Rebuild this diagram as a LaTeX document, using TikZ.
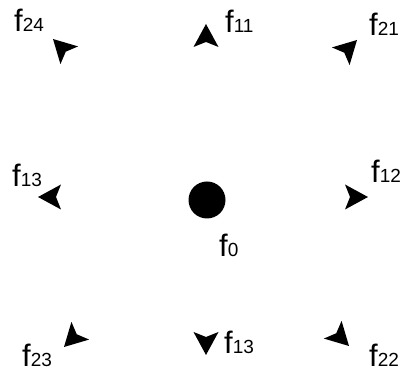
\documentclass[tikz,border=0pt]{standalone}
\usepackage{fontspec}
\setmainfont{Liberation Sans}
\usetikzlibrary{positioning}

% kleiner Index hinter dem f
\newcommand{\fidx}[1]{{\fontsize{19pt}{22pt}\selectfont #1}}

\begin{document}
\begin{tikzpicture}[x=1pt, y=1pt]

	% Stil für alle Knoten
	\tikzset{
		every node/.style={font=\fontsize{31pt}{37pt}\selectfont, inner sep=0pt},
		flabel/.style={anchor=base west},
		pics/farrow/.style={code={
			\fill (0,0) -- (-23,12.5) -- (-18,0) -- (-23,-12.5) -- cycle;
		}}
	}

	\useasboundingbox (0,0) rectangle (402,372);

	% Mittelpunkt
	\node[circle, fill=black, minimum size=37pt] (dot) at (207,172) {};
	\node[flabel] (f0) at (219,115) {f\fidx{0}};

	% Pfeilspitzen nach aussen
	\foreach \px/\py/\ang in {206/348/90, 357/332/45, 368/175/0, 349/26/-45,
		206/17/-90, 64/25/-135, 38/175/180, 53/333/135} {
		\pic[rotate=\ang] at (\px,\py) {farrow};
	}

	% Beschriftungen
	\node[flabel] (f24) at (14,340) {f\fidx{24}};
	\node[flabel] (f11) at (225,339) {f\fidx{11}};
	\node[flabel] (f21) at (369,336) {f\fidx{21}};
	\node[flabel] (f13l) at (12,185) {f\fidx{13}};
	\node[flabel] (f12) at (371,189) {f\fidx{12}};
	\node[flabel] (f23) at (22,5) {f\fidx{23}};
	\node[flabel] (f13b) at (224,18) {f\fidx{13}};
	\node[flabel] (f22) at (369,5) {f\fidx{22}};

\end{tikzpicture}
\end{document}
